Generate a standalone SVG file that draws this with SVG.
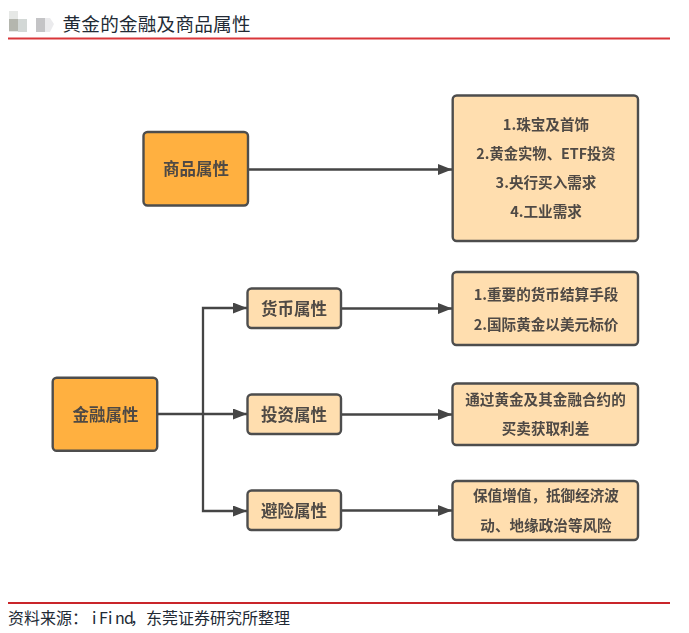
<svg xmlns="http://www.w3.org/2000/svg" width="689" height="633" viewBox="0 0 689 633">
<style>
text{font-family:"Noto Sans CJK SC","Liberation Sans",sans-serif}
.hd{font-size:18.6px;fill:#222a35}
.ft{font-size:16px;fill:#222a35}
.n rect{stroke:#4d4d4d;stroke-width:2.4}
.a{fill:#ffb03f}
.b{fill:#ffdeaf}
.n text{font-weight:700;fill:#4f4a45;text-anchor:middle}
.l{font-size:16.5px}
.s{font-size:14.6px}
.e{font-size:14.3px}
.c path{fill:none;stroke:#444;stroke-width:2.3}
</style>
<defs>
<marker id="arr" markerUnits="userSpaceOnUse" markerWidth="15" markerHeight="12" refX="14" refY="5.500" orient="auto"><path d="M0 0L14 5.500L0 11Z" fill="#444"/></marker>
<filter id="soft" x="-5%" y="-5%" width="110%" height="110%"><feGaussianBlur stdDeviation="0.45"/></filter>
</defs>
<rect width="689" height="633" fill="#fff"/>
<g id="smudge">
<rect x="9" y="11" width="9" height="21" fill="#e6e8e6"/>
<rect x="9" y="19" width="18" height="12" fill="#b4b6ae"/>
<rect x="18" y="19" width="9" height="13" fill="#d3d8d6"/>
<rect x="36" y="18" width="9" height="14" fill="#c4c4c6"/>
<path d="M45 18H50L54 24L50 32H45Z" fill="#ebebed"/>
</g>
<text class="hd" x="62.5" y="31" textLength="188">黄金的金融及商品属性</text>
<rect x="8" y="37.500" width="662" height="2" fill="#d9363a"/>
<rect x="8" y="602" width="662" height="2" fill="#c9252a"/>
<text class="ft" y="624"><tspan x="8">资料来源：</tspan><tspan x="92">i</tspan><tspan x="99">F</tspan><tspan x="108">i</tspan><tspan x="115">n</tspan><tspan x="124">d</tspan><tspan x="130">，</tspan><tspan x="146">东莞证券研究所整理</tspan></text>
<g filter="url(#soft)">
<g class="c" id="connectors">
<path d="M248 169.500H452" marker-end="url(#arr)"/>
<path d="M157 414H247" marker-end="url(#arr)"/>
<path d="M203 414V308H247" marker-end="url(#arr)"/>
<path d="M203 414V511H247" marker-end="url(#arr)"/>
<path d="M341 308.500H452" marker-end="url(#arr)"/>
<path d="M341 414.500H452" marker-end="url(#arr)"/>
<path d="M341 510.500H452" marker-end="url(#arr)"/>
</g>
<g class="n" id="n-commodity"><rect class="a" x="143.500" y="132" width="104.500" height="73.500" rx="4"/><text class="l" x="196" y="175">商品属性</text></g>
<g class="n" id="n-commodity-list"><rect class="b" x="452.700" y="95.500" width="185.300" height="145.500" rx="4"/>
<text class="s" x="546" y="130">1.珠宝及首饰</text><text class="e" x="546" y="159">2.黄金实物、ETF投资</text><text class="s" x="546" y="188">3.央行买入需求</text><text class="s" x="546" y="217">4.工业需求</text></g>
<g class="n" id="n-finance"><rect class="a" x="52.700" y="377.700" width="104.500" height="73" rx="4"/><text class="l" x="105.500" y="421">金融属性</text></g>
<g class="n" id="n-currency"><rect class="b" x="247.500" y="288.500" width="93.500" height="39.500" rx="4"/><text class="l" x="294" y="315">货币属性</text></g>
<g class="n" id="n-invest"><rect class="b" x="247.500" y="394.500" width="93.500" height="39.500" rx="4"/><text class="l" x="294" y="421">投资属性</text></g>
<g class="n" id="n-hedge"><rect class="b" x="247.500" y="490.500" width="93.500" height="39.500" rx="4"/><text class="l" x="294" y="517">避险属性</text></g>
<g class="n" id="n-currency-list"><rect class="b" x="452.500" y="272" width="185.500" height="73" rx="4"/>
<text class="s" x="546" y="300">1.重要的货币结算手段</text><text class="s" x="546" y="330">2.国际黄金以美元标价</text></g>
<g class="n" id="n-invest-list"><rect class="b" x="452.500" y="383.500" width="185.500" height="61.500" rx="4"/>
<text class="s" x="545.500" y="405">通过黄金及其金融合约的</text><text class="s" x="545.500" y="434">买卖获取利差</text></g>
<g class="n" id="n-hedge-list"><rect class="b" x="452.500" y="481" width="185.500" height="59" rx="4"/>
<text class="s" x="546" y="501">保值增值，抵御经济波</text><text class="s" x="546" y="531">动、地缘政治等风险</text></g>
</g>
</svg>
